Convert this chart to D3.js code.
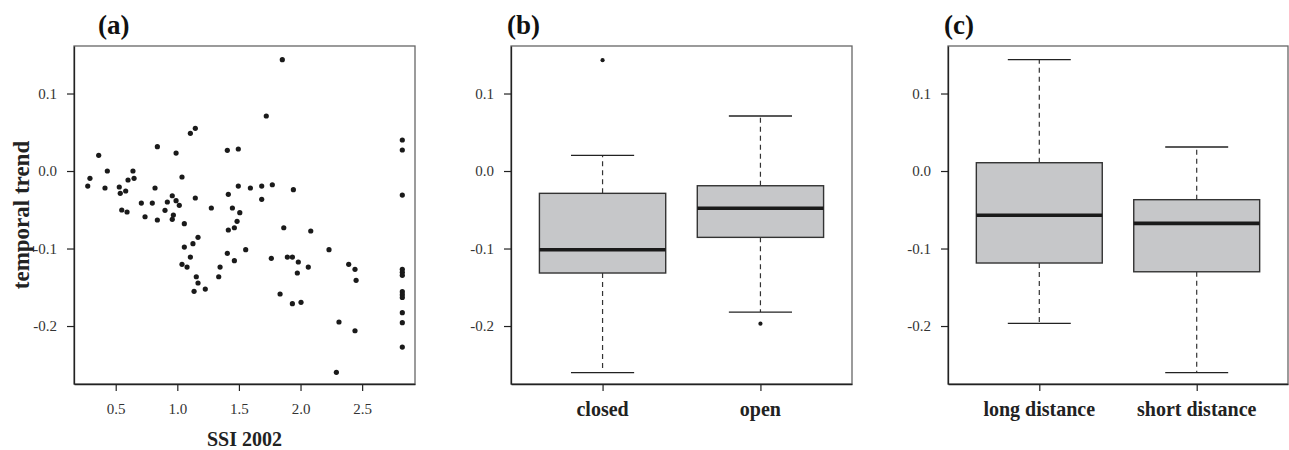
<!DOCTYPE html>
<html>
<head>
<meta charset="utf-8">
<script src="https://cdn.jsdelivr.net/npm/d3@7"></script>
<style>
  html, body { margin: 0; padding: 0; background: #fff; }
  svg { display: block; }
  text { font-family: "Liberation Serif", "Times New Roman", serif; }
</style>
</head>
<body>
<svg id="chart" width="1289" height="450"></svg>
<script>
// ---------------- data ----------------
const ssi2002 = [
  1.106, 1.146, 0.362, 0.838, 0.990, 1.406, 1.495, 0.432, 0.640, 0.291,
  0.273, 0.413, 0.600, 0.649, 0.529, 0.537, 0.581, 0.819, 1.038, 0.708,
  0.797, 0.919, 0.959, 0.990, 1.016, 1.146, 0.549, 0.592, 0.738, 0.838,
  0.900, 0.968, 0.959, 1.057, 1.276, 1.414, 1.447, 1.507, 1.495, 1.593,
  1.485, 1.463, 1.414, 1.168, 1.685, 1.771, 1.942, 1.685, 1.864, 2.083,
  1.852, 1.722, 1.127, 1.057, 1.106, 1.038, 1.079, 1.154, 1.168, 1.136,
  1.227, 1.406, 1.347, 1.336, 1.463, 1.555, 1.763, 1.893, 1.934, 1.982,
  2.063, 1.974, 2.231, 2.391, 2.442, 2.451, 1.834, 1.934, 2.004, 2.312,
  2.442, 2.291,
  2.826, 2.826, 2.826, 2.826, 2.826, 2.826, 2.826, 2.826, 2.826, 2.826, 2.826, 2.826
];
const temporalTrend = [
  0.0486, 0.0551, 0.0203, 0.0314, 0.0232, 0.0267, 0.0284, 0.0000, 0.0000, -0.0094,
  -0.0194, -0.0219, -0.0116, -0.0094, -0.0206, -0.0288, -0.0258, -0.0219, -0.0077, -0.0413,
  -0.0413, -0.0400, -0.0319, -0.0383, -0.0443, -0.0348, -0.0503, -0.0529, -0.0590, -0.0632,
  -0.0507, -0.0568, -0.0623, -0.0680, -0.0477, -0.0301, -0.0477, -0.0538, -0.0194, -0.0219,
  -0.0649, -0.0732, -0.0761, -0.0855, -0.0194, -0.0177, -0.0241, -0.0365, -0.0732, -0.0774,
  0.1436, 0.0710, -0.0938, -0.0981, -0.1110, -0.1204, -0.1239, -0.1364, -0.1445, -0.1552,
  -0.1523, -0.1062, -0.1239, -0.1364, -0.1157, -0.1015, -0.1126, -0.1110, -0.1110, -0.1174,
  -0.1239, -0.1316, -0.1015, -0.1204, -0.1268, -0.1410, -0.1587, -0.1712, -0.1694, -0.1948,
  -0.2061, -0.2597,
  0.0400, 0.0271, -0.0310, -0.1268, -0.1307, -0.1346, -0.1557, -0.1596, -0.1632, -0.1828, -0.1957, -0.2271
];

const xTicksA = [0.5, 1.0, 1.5, 2.0, 2.5];
const yTicks = [-0.2, -0.1, 0.0, 0.1];

// panel (b): habitat
const groupsB = ["closed", "open"];
// [lower whisker, Q1, median, Q3, upper whisker]
const statsB = [
  [-0.260, -0.1316, -0.1015, -0.0288, 0.0203],
  [-0.182, -0.0856, -0.0480, -0.0190, 0.0710]
];
const outliersB = [[0.143], [-0.197]];

// panel (c): dispersal distance
const groupsC = ["long distance", "short distance"];
const statsC = [
  [-0.1965, -0.1187, -0.0570, 0.0107, 0.1437],
  [-0.2600, -0.1300, -0.0675, -0.0370, 0.0310]
];
const outliersC = [[], []];

const panelTitles = ["(a)", "(b)", "(c)"];

// ---------------- layout ----------------
const svg = d3.select("#chart");
const plotTop = 46, plotBottom = 384;
const panels = [
  { left: 74, right: 415 },
  { left: 511, right: 852 },
  { left: 948, right: 1288 }
];
const titleX = [98, 507, 944];
const serif = '"Liberation Serif", "Times New Roman", serif';

const y = d3.scaleLinear().domain([-0.2748, 0.1613]).range([plotBottom, plotTop]);
const fmt = d => d.toFixed(1);

function drawFrame(g, p) {
  g.append("rect")
    .attr("x", p.left).attr("y", plotTop)
    .attr("width", p.right - p.left).attr("height", plotBottom - plotTop)
    .attr("fill", "none").attr("stroke", "#666").attr("stroke-width", 1.3);
}

function styleAxis(ax) {
  ax.attr("font-family", serif).attr("font-size", 15);
  ax.select(".domain").attr("stroke", "#222").attr("stroke-width", 1.3);
  ax.selectAll(".tick line").attr("stroke", "#222").attr("stroke-width", 1.2);
  ax.selectAll(".tick text").attr("fill", "#333");
}

function yAxis(g, p) {
  const ax = g.append("g").attr("transform", `translate(${p.left},0)`)
    .call(d3.axisLeft(y).tickValues(yTicks).tickFormat(fmt).tickSize(7).tickSizeOuter(0).tickPadding(10));
  styleAxis(ax);
}

function title(i) {
  svg.append("text").attr("x", titleX[i]).attr("y", 34)
    .attr("font-family", serif).attr("font-size", 27).attr("font-weight", "bold").attr("fill", "#111")
    .text(panelTitles[i]);
}

// ---------------- panel (a) scatter ----------------
{
  const p = panels[0];
  const g = svg.append("g");
  const x = d3.scaleLinear().domain([0.1615, 2.929]).range([p.left, p.right]);
  drawFrame(g, p);
  yAxis(g, p);
  const ax = g.append("g").attr("transform", `translate(0,${plotBottom})`)
    .call(d3.axisBottom(x).tickValues(xTicksA).tickFormat(fmt).tickSize(7).tickSizeOuter(0).tickPadding(12));
  styleAxis(ax);

  g.selectAll("circle.pt").data(ssi2002.map((s, i) => [s, temporalTrend[i]]))
    .join("circle").attr("class", "pt")
    .attr("cx", d => x(d[0])).attr("cy", d => y(d[1]))
    .attr("r", 2.6).attr("fill", "#1a1a1a");

  svg.append("text").attr("x", (p.left + p.right) / 2).attr("y", 446)
    .attr("text-anchor", "middle").attr("font-family", serif).attr("font-size", 20).attr("font-weight", "bold")
    .attr("fill", "#222").text("SSI 2002");
  svg.append("text")
    .attr("transform", `translate(29,${(plotTop + plotBottom) / 2}) rotate(-90)`)
    .attr("text-anchor", "middle").attr("font-family", serif).attr("font-size", 23).attr("font-weight", "bold")
    .attr("fill", "#222").text("temporal trend");
  title(0);
}

// ---------------- box plots ----------------
function boxPanel(i, groups, stats, outliers) {
  const p = panels[i];
  const g = svg.append("g");
  const x = d3.scaleLinear().domain([0.42, 2.58]).range([p.left, p.right]);
  const boxW = 0.8;
  drawFrame(g, p);
  yAxis(g, p);
  const ax = g.append("g").attr("transform", `translate(0,${plotBottom})`)
    .call(d3.axisBottom(x).tickValues(groups.map((d, k) => k + 1)).tickFormat(() => "").tickSize(7).tickSizeOuter(0));
  styleAxis(ax);

  groups.forEach((name, k) => {
    const c = k + 1;
    const [lo, q1, med, q3, hi] = stats[k];
    const cx = x(c);
    // whiskers
    g.append("line").attr("x1", cx).attr("x2", cx).attr("y1", y(q3)).attr("y2", y(hi))
      .attr("stroke", "#333").attr("stroke-width", 1.2).attr("stroke-dasharray", "5,4");
    g.append("line").attr("x1", cx).attr("x2", cx).attr("y1", y(q1)).attr("y2", y(lo))
      .attr("stroke", "#333").attr("stroke-width", 1.2).attr("stroke-dasharray", "5,4");
    // staples
    [lo, hi].forEach(v => {
      g.append("line").attr("x1", x(c - boxW / 4)).attr("x2", x(c + boxW / 4))
        .attr("y1", y(v)).attr("y2", y(v)).attr("stroke", "#222").attr("stroke-width", 1.3);
    });
    // box
    g.append("rect").attr("x", x(c - boxW / 2)).attr("width", x(c + boxW / 2) - x(c - boxW / 2))
      .attr("y", y(q3)).attr("height", y(q1) - y(q3))
      .attr("fill", "#c6c7c9").attr("stroke", "#333").attr("stroke-width", 1.4);
    // median
    g.append("line").attr("x1", x(c - boxW / 2)).attr("x2", x(c + boxW / 2))
      .attr("y1", y(med)).attr("y2", y(med)).attr("stroke", "#1a1a1a").attr("stroke-width", 3.6);
    // outliers
    outliers[k].forEach(v => {
      g.append("circle").attr("cx", cx).attr("cy", y(v)).attr("r", 2.1).attr("fill", "#1a1a1a");
    });
    // category label
    svg.append("text").attr("x", cx).attr("y", 416).attr("text-anchor", "middle")
      .attr("font-family", serif).attr("font-size", 20).attr("font-weight", "bold").attr("fill", "#222").text(name);
  });
  title(i);
}

boxPanel(1, groupsB, statsB, outliersB);
boxPanel(2, groupsC, statsC, outliersC);
</script>
</body>
</html>
